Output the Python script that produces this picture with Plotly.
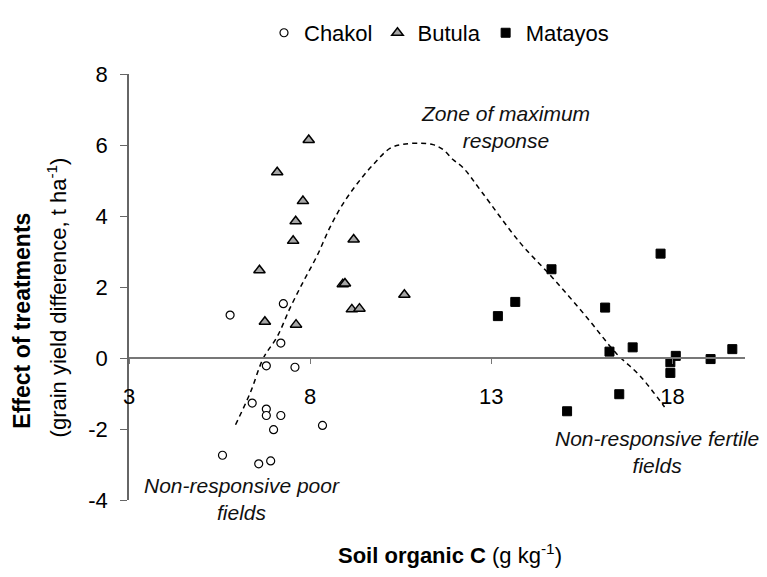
import plotly.graph_objects as go

# ---- data ----
chakol_x = [5.79, 7.26, 7.19, 6.79, 7.58, 6.40, 6.79, 6.79, 7.19, 6.99, 8.34, 5.58, 6.58, 6.91]
chakol_y = [1.21, 1.53, 0.42, -0.22, -0.26, -1.27, -1.44, -1.62, -1.62, -2.02, -1.90, -2.74, -2.98, -2.90]

butula_x = [7.96, 7.09, 7.80, 7.60, 7.53, 9.20, 6.60, 8.90, 8.96, 9.15, 9.36, 6.75, 7.61, 10.60]
butula_y = [6.14, 5.23, 4.42, 3.85, 3.30, 3.34, 2.47, 2.08, 2.10, 1.37, 1.39, 1.02, 0.94, 1.78]

matayos_x = [13.18, 13.66, 14.66, 16.14, 17.67, 16.26, 16.90, 18.09, 17.94, 17.94, 19.05, 19.65, 16.53, 15.09]
matayos_y = [1.18, 1.58, 2.50, 1.42, 2.94, 0.18, 0.30, 0.06, -0.12, -0.42, -0.03, 0.25, -1.02, -1.50]

curve_x = [5.94, 6.35, 6.71, 7.09, 7.45, 7.81, 8.19, 8.56, 8.91, 9.29, 9.74, 10.21, 10.57,
           11.04, 11.39, 11.67, 11.94, 12.22, 12.74, 13.79, 14.70, 15.63, 16.45, 17.10, 17.78]
curve_y = [-1.88, -0.97, 0.00, 0.60, 1.42, 2.15, 2.88, 3.71, 4.35, 4.90, 5.45, 5.91, 6.02,
           6.05, 6.01, 5.87, 5.59, 5.36, 4.67, 3.25, 2.25, 1.15, 0.13, -0.50, -1.38]

x_ticks = [3, 8, 13, 18]
y_ticks = [-4, -2, 0, 2, 4, 6, 8]

# ---- layout geometry ----
W, H = 767, 577
ML, MR, MT, MB = 129, 22, 64, 77
PW, PH = W - ML - MR, H - MT - MB


def px_x(p):
    return (p - ML) / PW


def px_y(p):
    return (H - MB - p) / PH


FONT = "Liberation Sans, Arial, sans-serif"

fig = go.Figure()

fig.add_trace(go.Scatter(
    x=curve_x, y=curve_y, mode="lines", line=dict(color="black", width=1.5, dash="5px,4px", shape="spline"),
    showlegend=False, hoverinfo="skip"))

fig.add_trace(go.Scatter(
    x=chakol_x, y=chakol_y, mode="markers", name="Chakol",
    marker=dict(symbol="circle", size=8, color="white", line=dict(color="black", width=1.2))))

fig.add_trace(go.Scatter(
    x=butula_x, y=butula_y, mode="markers", name="Butula",
    marker=dict(symbol="triangle-up", size=10, color="#a6a6a6", line=dict(color="black", width=1.5))))

fig.add_trace(go.Scatter(
    x=matayos_x, y=matayos_y, mode="markers", name="Matayos",
    marker=dict(symbol="square", size=9, color="black", line=dict(color="black", width=1))))

annotations = [
    dict(x=13.38, y=6.52, xref="x", yref="y", text="<i>Zone of maximum<br>response</i>",
         showarrow=False, font=dict(size=21, color="#111"), align="center"),
    dict(x=6.11, y=-3.97, xref="x", yref="y", text="<i>Non-responsive poor<br>fields</i>",
         showarrow=False, font=dict(size=21, color="#111"), align="center"),
    dict(x=17.56, y=-2.64, xref="x", yref="y", text="<i>Non-responsive fertile<br>fields</i>",
         showarrow=False, font=dict(size=21, color="#111"), align="center"),
    dict(x=px_x(22), y=px_y(429), xref="paper", yref="paper", xanchor="center", yanchor="bottom",
         textangle=-90, text="<b>Effect of treatments</b>", showarrow=False,
         font=dict(size=23, color="black")),
    dict(x=px_x(57), y=px_y(438), xref="paper", yref="paper", xanchor="center", yanchor="bottom",
         textangle=-90, text="(grain yield difference, t ha<sup>-1</sup>)", showarrow=False,
         font=dict(size=22, color="black")),
    dict(x=px_x(336), y=px_y(555), xref="paper", yref="paper", xanchor="left", yanchor="middle",
         text="<b>Soil organic C</b> (g kg<sup>-1</sup>)", showarrow=False,
         font=dict(size=22, color="black")),
]

fig.update_layout(
    width=W, height=H,
    margin=dict(l=ML, r=MR, t=MT, b=MB, pad=0),
    paper_bgcolor="white", plot_bgcolor="white",
    font=dict(family=FONT, size=22, color="black"),
    showlegend=True,
    legend=dict(orientation="h", x=px_x(264), y=px_y(22), xanchor="left", yanchor="middle",
                font=dict(size=22), bgcolor="rgba(0,0,0,0)", itemwidth=30, tracegroupgap=0),
    annotations=annotations,
    xaxis=dict(range=[3, 20], tickvals=x_ticks, ticktext=[str(v) for v in x_ticks],
               showgrid=False, zeroline=False, showline=True, linecolor="#777", linewidth=1.5,
               ticks="outside", ticklen=5, tickcolor="#777", tickwidth=1,
               anchor="free", position=4 / 12, ticklabelstandoff=14,
               tickfont=dict(size=22)),
    yaxis=dict(range=[-4, 8], tickvals=y_ticks, ticktext=[str(v) for v in y_ticks],
               showgrid=False, zeroline=False, showline=True, linecolor="#666", linewidth=1.5,
               ticks="outside", ticklen=7, tickcolor="#666", tickwidth=1,
               ticklabelstandoff=8, tickfont=dict(size=22)),
)

fig.write_html("out.html")
